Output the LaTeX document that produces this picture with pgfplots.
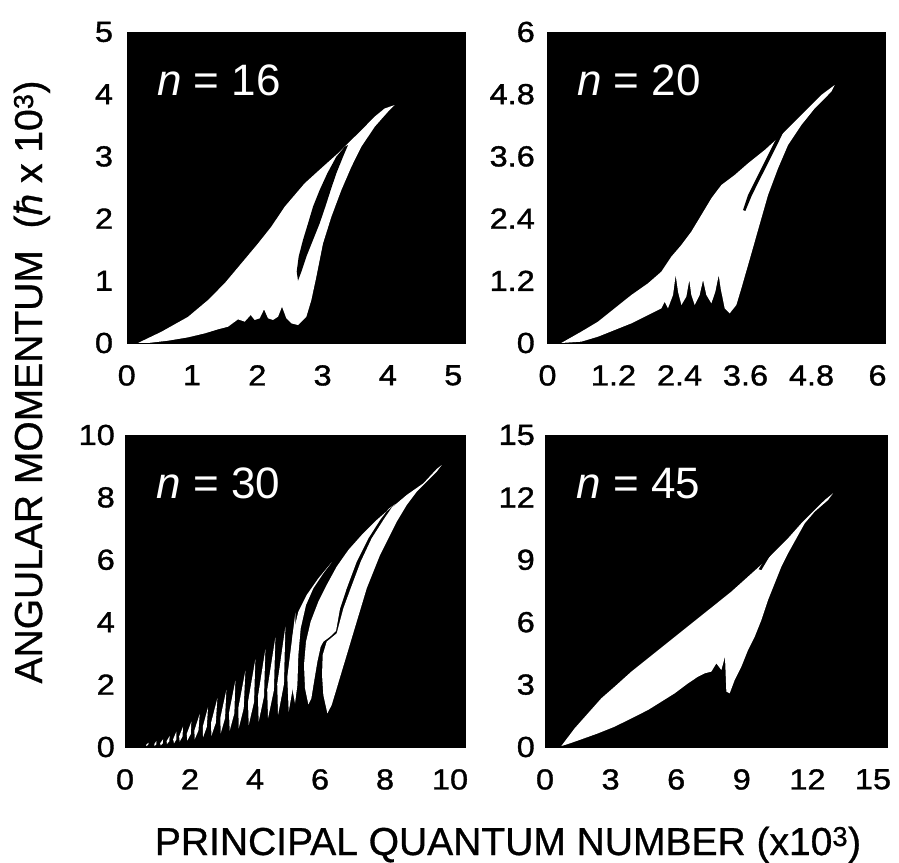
\documentclass[border=0pt]{standalone}
\usepackage{fontspec}
\setmainfont{Liberation Sans}
\newfontfamily\tickfam[FakeStretch=1.12,FakeBold=1.2]{Liberation Sans}
\newfontfamily\labfam[FakeBold=0.8]{Liberation Sans}
\usepackage{pgfplots}
\pgfplotsset{compat=1.18}

\newcommand\tickfont{\tickfam\fontsize{29bp}{34bp}\selectfont}
\newcommand\labfont{\labfam\fontsize{39bp}{46bp}\selectfont}
\newcommand\nfont{\fontsize{44bp}{52bp}\selectfont}

\tikzset{
  nlabel/.style={anchor=base west, inner sep=0pt, text=white, font=\nfont},
}
\pgfplotsset{
  panel/.style={
    scale only axis, height=311bp,
    anchor=south west,
    axis background/.style={fill=black},
    axis line style={black},
    major tick length=0pt, minor tick num=0,
    xmin=0, ymin=0,
    tick label style={font=\tickfont},
    xticklabel style={anchor=north, inner sep=0pt, yshift=-22bp},
    yticklabel style={anchor=east, inner sep=0pt},
  },
  blob/.style={fill=white, draw=none},
  gap/.style={fill=black, draw=none},
}

\begin{document}
\begin{tikzpicture}
\useasboundingbox (0,0) rectangle (899bp,863bp);

% ---------------- n = 16 ----------------
\begin{axis}[panel, at={(126.7bp,520bp)}, width=338.3bp,
  xmax=5.18, ymax=5,
  yticklabel style={xshift=-13.5bp},
  xtick={0,1,2,3,4,5}, xticklabels={0,1,2,3,4,5},
  ytick={0,1,2,3,4,5}, yticklabels={0,1,2,3,4,5}]
\addplot[blob] coordinates {
 (0.173,0.0) (0.531,0.18) (0.939,0.42) (1.245,0.69) (1.500,0.96) (1.756,1.28)
 (2.011,1.60) (2.215,1.87) (2.419,2.19) (2.725,2.567) (2.980,2.81) (3.236,3.05)
 (3.389,3.21) (3.593,3.42) (3.798,3.64) (3.950,3.77) (4.104,3.826) (4.002,3.72)
 (3.798,3.478) (3.593,3.156) (3.441,2.835) (3.287,2.46) (3.134,2.031) (3.006,1.602)
 (2.904,1.066) (2.827,0.69) (2.751,0.423) (2.623,0.289) (2.521,0.316) (2.444,0.397)
 (2.378,0.584) (2.318,0.423) (2.240,0.37) (2.164,0.397) (2.103,0.541) (2.037,0.397)
 (1.959,0.37) (1.898,0.45) (1.807,0.343) (1.704,0.38) (1.552,0.262) (1.398,0.22)
 (1.195,0.155) (0.939,0.091) (0.632,0.037) (0.326,0.0)} -- cycle;
\addplot[gap] coordinates {
 (3.338,3.156) (3.210,2.996) (3.072,2.728) (2.955,2.460) (2.853,2.192) (2.777,1.924)
 (2.699,1.656) (2.633,1.388) (2.603,1.147) (2.623,1.002) (2.675,1.147) (2.751,1.388)
 (2.853,1.656) (2.955,1.924) (3.042,2.192) (3.124,2.460) (3.210,2.728) (3.313,2.996)
 (3.389,3.183)} -- cycle;
\node[nlabel] at (rel axis cs:0.089,0.797) {\textit{n} = 16};
\end{axis}

% ---------------- n = 20 ----------------
\begin{axis}[panel, at={(547.5bp,520bp)}, width=337.5bp,
  xmax=6.136, ymax=6,
  yticklabel style={xshift=-12.5bp},
  xtick={0,1.2,2.4,3.6,4.8,6}, xticklabels={0,1.2,2.4,3.6,4.8,6},
  ytick={0,1.2,2.4,3.6,4.8,6}, yticklabels={0,1.2,2.4,3.6,4.8,6}]
\addplot[blob] coordinates {
 (0.251,0.0) (0.615,0.219) (0.918,0.411) (1.221,0.669) (1.525,0.926) (1.827,1.151)
 (2.070,1.376) (2.252,1.666) (2.434,1.891) (2.615,2.148) (2.797,2.469) (2.979,2.791)
 (3.161,3.048) (3.403,3.241) (3.646,3.466) (3.949,3.723) (4.251,4.013) (4.494,4.270)
 (4.736,4.527) (4.978,4.785) (5.221,4.977) (5.160,4.849) (4.858,4.527) (4.615,4.206)
 (4.373,3.820) (4.191,3.370) (4.009,2.855) (3.888,2.405) (3.767,1.955) (3.646,1.505)
 (3.524,1.055) (3.433,0.733) (3.312,0.572) (3.221,0.669) (3.148,1.055) (3.113,1.312)
 (3.051,0.990) (2.979,0.765) (2.888,0.926) (2.828,1.215) (2.766,0.926) (2.676,0.733)
 (2.615,0.926) (2.578,1.215) (2.524,0.894) (2.434,0.733) (2.373,0.990) (2.330,1.312)
 (2.282,0.926) (2.190,0.669) (2.130,0.797) (2.070,0.669) (1.888,0.572) (1.827,0.540)
 (1.525,0.379) (1.221,0.251) (0.918,0.122) (0.615,0.026)} -- cycle;
\addplot[gap] coordinates {
 (4.282,4.174) (4.131,3.884) (3.949,3.498) (3.797,3.177) (3.646,2.855) (3.555,2.566)
 (3.597,2.547) (3.718,2.855) (3.869,3.177) (4.022,3.498) (4.203,3.884) (4.325,4.154)} -- cycle;
\node[nlabel] at (rel axis cs:0.087,0.797) {\textit{n} = 20};
\end{axis}

% ---------------- n = 30 ----------------
\begin{axis}[panel, at={(125bp,116bp)}, width=340bp, height=312bp,
  xmax=10.46, ymax=10,
  yticklabel style={xshift=-10bp},
  xtick={0,2,4,6,8,10}, xticklabels={0,2,4,6,8,10},
  ytick={0,2,4,6,8,10}, yticklabels={0,2,4,6,8,10}]
% narrow resonance fingers
\addplot[blob] coordinates {(0.656,0.032) (0.712,0.069) (0.728,0.139) (0.650,0.069)} -- cycle;
\addplot[blob] coordinates {(0.913,0.032) (0.962,0.088) (0.964,0.192) (0.900,0.088)} -- cycle;
\addplot[blob] coordinates {(1.097,0.053) (1.165,0.121) (1.170,0.246) (1.082,0.121)} -- cycle;
\addplot[blob] coordinates {(1.292,0.096) (1.363,0.186) (1.374,0.353) (1.280,0.186)} -- cycle;
\addplot[blob] coordinates {(1.508,0.117) (1.584,0.248) (1.579,0.492) (1.481,0.248)} -- cycle;
\addplot[blob] coordinates {(1.682,0.171) (1.770,0.339) (1.785,0.652) (1.666,0.339)} -- cycle;
\addplot[blob] coordinates {(1.918,0.203) (2.023,0.416) (2.041,0.812) (1.899,0.416)} -- cycle;
\addplot[blob] coordinates {(2.143,0.246) (2.260,0.530) (2.298,1.058) (2.135,0.530)} -- cycle;
\addplot[blob] coordinates {(2.401,0.310) (2.517,0.646) (2.554,1.271) (2.392,0.646)} -- cycle;
\addplot[blob] coordinates {(2.657,0.353) (2.794,0.775) (2.841,1.560) (2.648,0.775)} -- cycle;
\addplot[blob] coordinates {(2.944,0.438) (3.078,0.924) (3.118,1.827) (2.932,0.924)} -- cycle;
\addplot[blob] coordinates {(3.221,0.524) (3.365,1.085) (3.395,2.126) (3.199,1.085)} -- cycle;
\addplot[blob] coordinates {(3.498,0.598) (3.652,1.245) (3.703,2.447) (3.486,1.245)} -- cycle;
\addplot[blob] coordinates {(3.806,0.705) (3.970,1.442) (4.010,2.810) (3.784,1.442)} -- cycle;
\addplot[blob] coordinates {(4.112,0.812) (4.277,1.624) (4.318,3.131) (4.091,1.624)} -- cycle;
\addplot[blob] coordinates {(4.400,0.919) (4.582,1.828) (4.626,3.515) (4.375,1.828)} -- cycle;
\addplot[blob] coordinates {(4.708,1.026) (4.890,2.017) (4.934,3.857) (4.683,2.017)} -- cycle;
\addplot[blob] coordinates {(5.036,1.133) (5.222,2.244) (5.241,4.306) (4.994,2.244)} -- cycle;
% long curved lobes
\addplot[blob] coordinates {
 (5.230,1.399) (5.128,1.987) (5.108,2.735) (5.159,3.590) (5.333,4.337) (5.590,4.872)
 (5.949,5.406) (6.358,5.919) (6.102,5.566) (5.794,5.085) (5.569,4.551) (5.405,3.803)
 (5.333,2.949) (5.303,1.987)} -- cycle;
\addplot[blob] coordinates {
 (5.641,1.367) (5.538,1.880) (5.507,2.628) (5.569,3.376) (5.712,4.017) (5.949,4.658)
 (6.205,5.192) (6.513,5.780) (6.872,6.314) (7.282,6.795) (7.744,7.276) (8.153,7.649)
 (8.308,7.778) (8.103,7.628) (7.846,7.276) (7.487,6.688) (7.128,5.940) (6.821,5.085)
 (6.616,4.444) (6.492,3.718) (6.308,3.536) (6.102,3.376) (6.020,3.216) (5.918,2.735)
 (5.815,2.094) (5.733,1.559)} -- cycle;
\addplot[blob] coordinates {
 (9.743,9.038) (9.590,8.825) (9.282,8.504) (8.975,8.184) (8.667,7.756) (8.359,7.222)
 (8.103,6.688) (7.846,6.154) (7.641,5.620) (7.436,5.085) (7.282,4.551) (7.128,4.017)
 (6.974,3.483) (6.821,2.949) (6.666,2.414) (6.513,1.880) (6.358,1.346) (6.226,1.079)
 (6.102,1.666) (6.062,2.307) (6.082,2.949) (6.205,3.376) (6.513,3.643) (6.718,4.444)
 (6.943,5.085) (7.251,5.940) (7.589,6.688) (7.949,7.276) (8.205,7.671) (8.667,8.077)
 (9.179,8.451) (9.590,8.910)} -- cycle;
\node[nlabel] at (rel axis cs:0.093,0.797) {\textit{n} = 30};
\end{axis}

% ---------------- n = 45 ----------------
\begin{axis}[panel, at={(545bp,116bp)}, width=342bp, height=312bp,
  xmax=15.64, ymax=15,
  yticklabel style={xshift=-10bp},
  xtick={0,3,6,9,12,15}, xticklabels={0,3,6,9,12,15},
  ytick={0,3,6,9,12,15}, yticklabels={0,3,6,9,12,15}]
\addplot[blob] coordinates {
 (0.746,0.048) (1.357,0.898) (1.966,1.619) (2.576,2.340) (3.186,2.901) (3.948,3.622)
 (4.710,4.263) (5.473,4.904) (6.235,5.545) (6.997,6.186) (7.760,6.827) (8.521,7.468)
 (9.284,8.189) (10.046,8.911) (10.656,9.552) (11.113,10.032) (11.723,10.753)
 (12.333,11.395) (12.790,11.871) (13.171,12.196) (12.942,11.871) (12.333,11.315)
 (11.875,10.753) (11.495,10.032) (11.113,9.311) (10.808,8.670) (10.503,7.869)
 (10.198,7.068) (9.894,6.106) (9.589,5.305) (9.284,4.664) (8.978,3.862) (8.674,3.221)
 (8.445,2.580) (8.293,2.661) (8.231,4.343) (8.064,3.702) (7.836,4.023) (7.607,3.622)
 (7.302,3.542) (6.997,3.382) (6.540,3.061) (5.930,2.580) (5.321,2.180) (4.710,1.779)
 (3.948,1.378) (3.186,0.978) (2.424,0.657) (1.662,0.369) (1.052,0.144)} -- cycle;
\addplot[gap] coordinates {
 (10.884,10.305) (10.503,9.792) (10.122,9.151) (9.772,8.542) (9.894,8.510)
 (10.244,9.119) (10.656,9.760) (10.991,10.273)} -- cycle;
\node[nlabel] at (rel axis cs:0.092,0.797) {\textit{n} = 45};
\end{axis}

% shared axis titles
\node[anchor=base, inner sep=0pt, font=\labfont] at (508bp,8bp)
  {PRINCIPAL QUANTUM NUMBER (x10\textsuperscript{3})};
\node[anchor=base, inner sep=0pt, rotate=90, font=\labfont] at (42bp,481bp)
  {ANGULAR MOMENTUM\ \ (\textit{ħ} x 10\textsuperscript{3})};
\end{tikzpicture}
\end{document}
